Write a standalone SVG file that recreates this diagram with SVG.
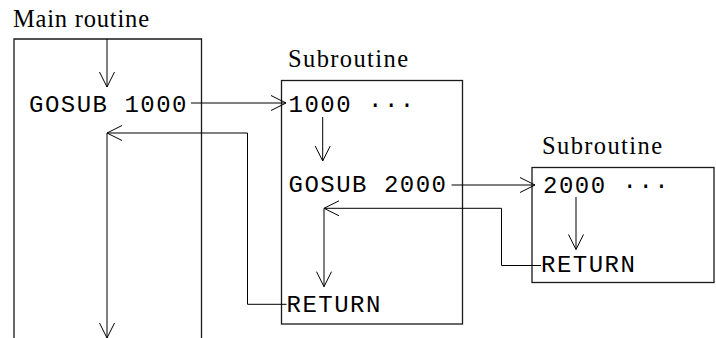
<svg xmlns="http://www.w3.org/2000/svg" width="716" height="338" viewBox="0 0 716 338">
  <defs>
    <marker id="v" viewBox="-16 -9 18 18" refX="0" refY="0" markerWidth="18" markerHeight="18" markerUnits="userSpaceOnUse" orient="auto" overflow="visible">
      <path d="M-15,-7.5 L0,0 L-15,7.5" fill="none" stroke="#000" stroke-width="1"/>
    </marker>
    <style>
      .box { fill: none; stroke: #1a1a1a; stroke-width: 1.3; }
      .con { fill: none; stroke: #000; stroke-width: 1; }
      .arr { marker-end: url(#v); }
      .title { font-family: "Liberation Serif", "Times New Roman", serif; font-size: 24.5px; fill: #000; }
      .code { font-family: "Liberation Mono", "Courier New", monospace; font-size: 24px; letter-spacing: 1.5px; fill: #000; }
    </style>
  </defs>

  <g id="main-routine">
    <text class="title" x="13" y="26.5" textLength="136" lengthAdjust="spacing">Main routine</text>
    <path class="box" d="M14,338 V39 H201.5 V338"/>
    <text class="code" x="29" y="111.5">GOSUB 1000</text>
  </g>

  <g id="subroutine-1000">
    <text class="title" x="288" y="66.5" textLength="120" lengthAdjust="spacing">Subroutine</text>
    <rect class="box" x="281.5" y="80.5" width="181" height="243.5"/>
    <text class="code" x="288.5" y="111.5">1000 ···</text>
    <text class="code" x="288.5" y="191.7">GOSUB 2000</text>
    <text class="code" x="286.5" y="311.7">RETURN</text>
  </g>

  <g id="subroutine-2000">
    <text class="title" x="542" y="153.5" textLength="120" lengthAdjust="spacing">Subroutine</text>
    <rect class="box" x="532" y="167.5" width="182" height="115"/>
    <text class="code" x="543" y="193">2000 ···</text>
    <text class="code" x="541" y="271.7">RETURN</text>
  </g>

  <g id="connectors">
    <path class="con arr" d="M107,39 V87"/>
    <path class="con arr" d="M191,103 H286"/>
    <path class="con arr" d="M322.7,117 V161"/>
    <path class="con arr" d="M451.5,185 H535"/>
    <path class="con arr" d="M576,197 V249.5"/>
    <path class="con arr" d="M541,265.5 H501.5 V208.3 H324"/>
    <path class="con arr" d="M324,208.3 V286.7"/>
    <path class="con arr" d="M286.5,304.3 H247.5 V133 H107"/>
    <path class="con arr" d="M107,133 V338"/>
  </g>
</svg>
